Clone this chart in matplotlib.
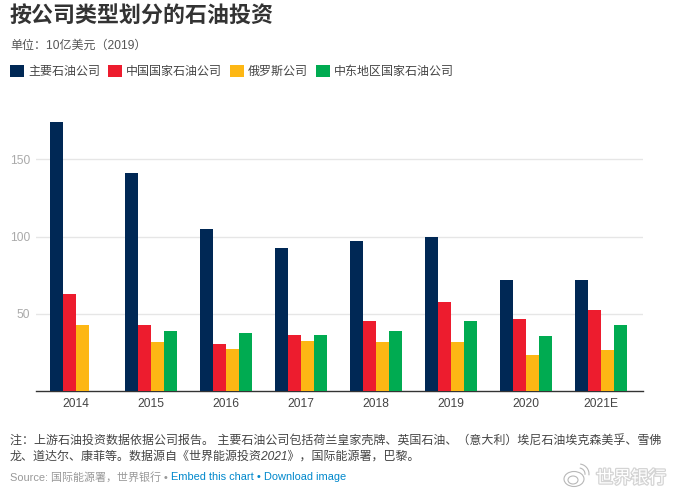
#!/usr/bin/python3

import numpy as np
import matplotlib
matplotlib.use('Agg')
import matplotlib.pyplot as plt
import matplotlib.patheffects as pe
from matplotlib.patches import Ellipse, Arc

years = ['2014', '2015', '2016', '2017', '2018', '2019', '2020', '2021E']
names = ['主要石油公司', '中国国家石油公司', '俄罗斯公司', '中东地区国家石油公司']
majors = [174, 141, 105, 92.6, 97, 99.7, 72, 72]
china = [63, 43, 30.6, 36.4, 45.4, 57.7, 46.7, 52.6]
russia = [43, 32, 27.3, 32.5, 32, 32, 23.5, 26.7]
mideast = [np.nan, 39, 37.8, 36.4, 39, 45.4, 35.8, 43]
yticks = [50, 100, 150]
colors = ['#002855', '#ed1c2e', '#fdb714', '#00ab51']

W, H = 674, 495
plt.rcParams['font.family'] = ['Liberation Sans', 'Noto Sans CJK SC']
FS = 8.64  # 12 px
FS_SRC = 7.92  # 11 px


def put(x, y, s, **kw):
    kw.setdefault('va', 'center')
    return fig.text(x/W, 1-y/H, s, **kw)


fig = plt.figure(figsize=(W/100, H/100), dpi=100, facecolor='white')
ax = fig.add_axes([36/W, (H-391.3)/H, (642.7-36)/W, (391.3-112.8)/H])

bar_w = 13/75
for k, vals in enumerate([majors, china, russia, mideast]):
    xs = np.arange(len(years)) + (k-2)*bar_w
    ax.bar(xs, vals, bar_w, align='edge', color=colors[k], label=names[k], zorder=3)

ax.set_xlim(-40/75, 566.7/75)
ax.set_ylim(0, 180)
ax.set_xticks(np.arange(len(years)), years)
ax.set_yticks(yticks)
ax.grid(axis='y', color='#e6e6e6', lw=1, zorder=0)
ax.set_axisbelow(True)
for s in ['top', 'right', 'left']:
    ax.spines[s].set_visible(False)
ax.spines['bottom'].set_color('#333333')
ax.spines['bottom'].set_linewidth(1.0)
ax.tick_params(axis='x', length=0, labelsize=FS, labelcolor='#444444', pad=5)
ax.tick_params(axis='y', length=0, labelsize=FS, labelcolor='#aaaaaa', pad=4)

handles, labels = ax.get_legend_handles_labels()
fig.legend(handles, labels, loc='upper left', bbox_to_anchor=(10/W, 1-65/H),
           ncol=4, frameon=False, fontsize=FS, labelcolor='#444444',
           borderpad=0, borderaxespad=0, handlelength=14/12, handleheight=14/12,
           handletextpad=4/12, columnspacing=8/12)

put(10, 17, '按公司类型划分的石油投资', fontsize=15.8, fontweight='bold', color='#333333')
put(10, 46, '单位：10亿美元（2019）', fontsize=FS, color='#555555')

put(10, 442, '注：上游石油投资数据依据公司报告。 主要石油公司包括荷兰皇家壳牌、英国石油、（意大利）埃尼石油埃克森美孚、雪佛',
    fontsize=FS, color='#444444', style='italic')
put(10, 457, '龙、道达尔、康菲等。数据源自《世界能源投资2021》，国际能源署，巴黎。',
    fontsize=FS, color='#444444', style='italic')
put(10, 477, 'Source: 国际能源署，世界银行 •', fontsize=FS_SRC, color='#999999')
put(171, 477, 'Embed this chart', fontsize=FS_SRC, color='#0088cc')
put(257, 477, '•', fontsize=FS_SRC, color='#0088cc')
put(264, 477, 'Download image', fontsize=FS_SRC, color='#0088cc')

# weibo style watermark
put(596, 478, '世界银行', fontsize=12.6, color='#ffffff',
    path_effects=[pe.withStroke(linewidth=1.8, foreground='#d4d4d4')])
for c, wh in [((574, 479), (20, 15)), ((573, 480), (10, 8))]:
    fig.add_artist(Ellipse((c[0]/W, 1-c[1]/H), wh[0]/W, wh[1]/H, fill=False,
                           ec='#b8b8b8', lw=0.8, transform=fig.transFigure))
for r in [20, 12]:
    fig.add_artist(Arc((579/W, 1-474/H), r/W, r/H, theta1=-10, theta2=85, ec='#b8b8b8',
                       lw=0.8, transform=fig.transFigure))

plt.savefig('out.png', dpi=100)
